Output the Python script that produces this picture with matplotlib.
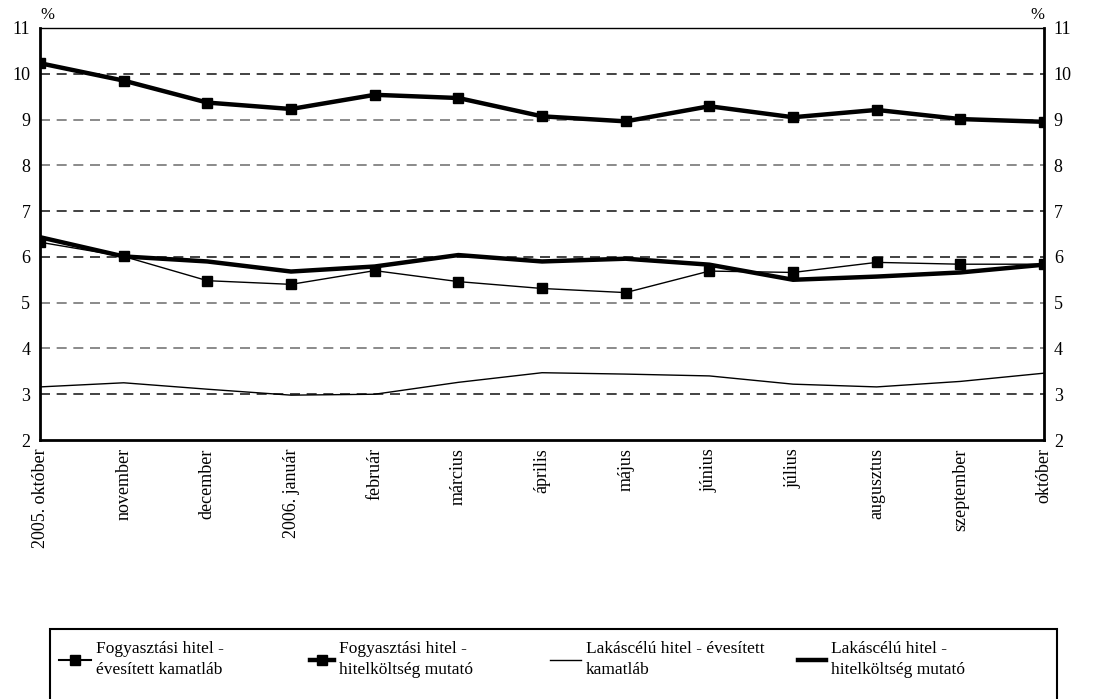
import numpy as np
import matplotlib
matplotlib.use("Agg")
import matplotlib.pyplot as plt
from matplotlib.lines import Line2D
from matplotlib.patches import Rectangle

plt.rcParams["font.family"] = ["Liberation Serif", "DejaVu Serif"]

# Havi adatok 2005. október - 2006. október
months = ["2005. október", "november", "december", "2006. január", "február",
          "március", "április", "május", "június", "július", "augusztus",
          "szeptember", "október"]

fogy_kamat = [6.32, 6.01, 5.48, 5.40, 5.70, 5.46, 5.31, 5.22, 5.69, 5.66, 5.88, 5.84, 5.84]
fogy_thm = [10.23, 9.85, 9.37, 9.23, 9.54, 9.47, 9.07, 8.96, 9.29, 9.05, 9.21, 9.01, 8.95]
lakas_kamat = [3.16, 3.25, 3.11, 2.98, 3.00, 3.26, 3.47, 3.44, 3.40, 3.22, 3.16, 3.28, 3.46]
lakas_thm = [6.43, 6.01, 5.90, 5.68, 5.79, 6.04, 5.90, 5.96, 5.83, 5.50, 5.57, 5.66, 5.83]

labels = ["Fogyasztási hitel -\névesített kamatláb",
          "Fogyasztási hitel -\nhitelköltség mutató",
          "Lakáscélú hitel - évesített\nkamatláb",
          "Lakáscélú hitel -\nhitelköltség mutató"]

fig = plt.figure(figsize=(10.99, 6.99), dpi=100)
ax = fig.add_axes([0.0364, 0.3705, 0.9136, 0.5895])

x = np.arange(len(months))

# szaggatott rácsvonalak
grid_colors = ["#222222", "#777777", "#777777", "#222222", "#222222", "#777777", "#777777", "#222222"]
for yv, gc in zip(range(3, 11), grid_colors):
    ax.axhline(yv, color=gc, lw=1.2, ls=(0, (6, 4)), zorder=1)

ax.plot(x, fogy_kamat, color="black", lw=1.0, marker="s", ms=7, zorder=3)
ax.plot(x, fogy_thm, color="black", lw=3.2, marker="s", ms=7.5, zorder=3)
ax.plot(x, lakas_kamat, color="black", lw=1.0, zorder=3)
ax.plot(x, lakas_thm, color="black", lw=3.2, zorder=3)

ax.set_xlim(0, len(months) - 1)
ax.set_ylim(2, 11)
ax.set_yticks(range(2, 12))
ax.set_xticks(x)
ax.set_xticklabels(months, rotation=90, fontsize=13)
ax.tick_params(axis="x", length=0, pad=6)
ax.tick_params(axis="y", length=0, labelsize=13, pad=7, labelright=True)

for side in ["left", "right", "bottom"]:
    ax.spines[side].set_linewidth(2)
ax.spines["top"].set_linewidth(1)

ax.text(0.0, 1.012, "%", transform=ax.transAxes, fontsize=12, ha="left", va="bottom")
ax.text(1.0, 1.012, "%", transform=ax.transAxes, fontsize=12, ha="right", va="bottom")

# jelmagyarázat keretben
fig.patches.append(Rectangle((0.0455, -0.1), 0.916, 0.2, transform=fig.transFigure,
                             fill=False, edgecolor="black", lw=1.5))

handles = [Line2D([], [], color="black", lw=1.5, marker="s", ms=7),
           Line2D([], [], color="black", lw=3.2, marker="s", ms=7.5),
           Line2D([], [], color="black", lw=1.0),
           Line2D([], [], color="black", lw=3.2)]
legend_x = [0.054, 0.282, 0.500, 0.726]
handle_len = [1.8, 1.4, 1.8, 1.6]
for h, lab, lx, hl in zip(handles, labels, legend_x, handle_len):
    leg = fig.legend([h], [lab], loc="center left", bbox_to_anchor=(lx, 0.056),
                     frameon=False, fontsize=12.5, handlelength=hl,
                     handletextpad=0.3, borderpad=0, borderaxespad=0)
    for t in leg.get_texts():
        t.set_linespacing(1.4)

fig.savefig("out.png", dpi=100)
